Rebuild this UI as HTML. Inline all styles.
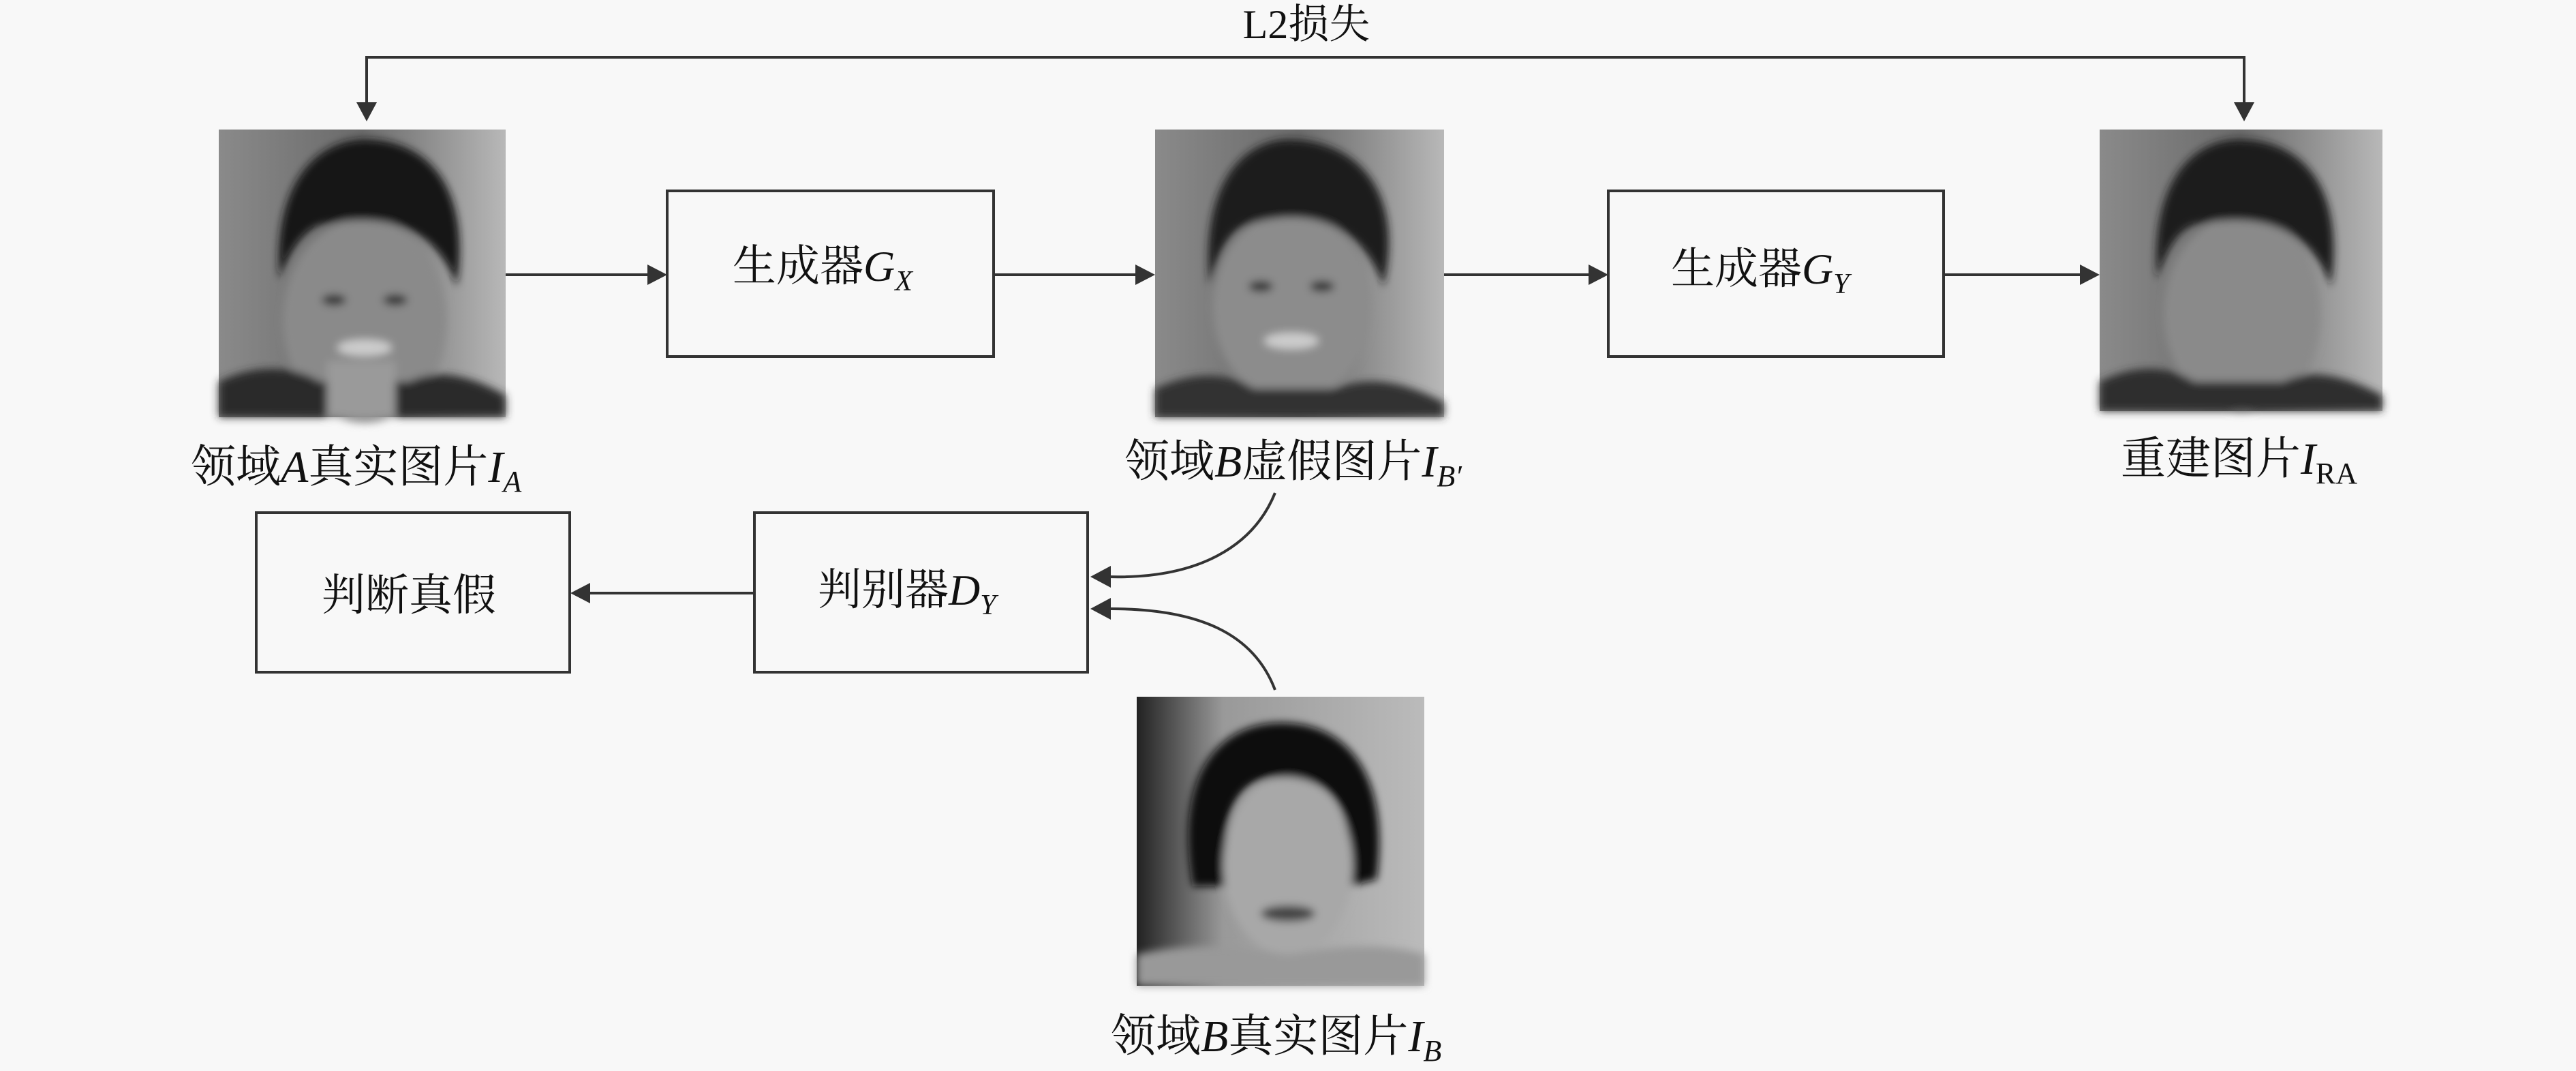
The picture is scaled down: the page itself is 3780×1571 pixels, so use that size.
<!DOCTYPE html>
<html><head><meta charset="utf-8"><style>
html,body{margin:0;padding:0;background:#f8f8f8;}
svg{display:block}
text{font-family:"Liberation Serif","Noto Serif CJK SC",serif;fill:#111;}
.m{font-style:italic}
</style></head><body>
<svg width="3780" height="1571" viewBox="0 0 3780 1571" xmlns="http://www.w3.org/2000/svg">
<defs>
<linearGradient id="bg1" x1="0" y1="0" x2="1" y2="0"><stop offset="0" stop-color="#8a8a8a"/><stop offset="0.5" stop-color="#6a6a6a"/><stop offset="1" stop-color="#b8b8b8"/></linearGradient>
<linearGradient id="bg2" x1="0" y1="0" x2="1" y2="0"><stop offset="0" stop-color="#222"/><stop offset="0.3" stop-color="#999"/><stop offset="1" stop-color="#bbb"/></linearGradient>
<filter id="bl"><feGaussianBlur stdDeviation="6"/></filter>
</defs>
<g stroke="#333" stroke-width="4" fill="none">
<polyline points="538,174 538,84 3293,84 3293,174"/>
<line x1="742" y1="403" x2="955" y2="403"/>
<line x1="1458" y1="403" x2="1672" y2="403"/>
<line x1="2119" y1="403" x2="2336" y2="403"/>
<line x1="2852" y1="403" x2="3058" y2="403"/>
<line x1="1107" y1="870" x2="860" y2="870"/>
<path d="M1871,723 C1840,800 1760,850 1625,846"/>
<path d="M1871,1012 C1840,930 1760,892 1625,893"/>
<rect x="979" y="280" width="479" height="243"/>
<rect x="2360" y="280" width="492" height="243"/>
<rect x="376" y="752" width="460" height="234"/>
<rect x="1107" y="752" width="489" height="234"/>
</g>
<g fill="#333">
<polygon points="523,150 553,150 538,178"/>
<polygon points="3278,150 3308,150 3293,178"/>
<polygon points="950,388 979,403 950,418"/>
<polygon points="1666,388 1695,403 1666,418"/>
<polygon points="2331,388 2360,403 2331,418"/>
<polygon points="3052,388 3081,403 3052,418"/>
<polygon points="866,855 837,870 866,885"/>
<polygon points="1630,830 1600,846 1630,862"/>
<polygon points="1630,877 1600,893 1630,909"/>
</g>
<g>
<rect x="321" y="190" width="421" height="422" fill="url(#bg1)"/>
<g filter="url(#bl)">
<ellipse cx="535" cy="470" rx="120" ry="150" fill="#8a8a8a"/>
<path d="M410,410 C400,250 480,200 545,205 C640,210 690,290 670,420 C640,330 560,310 470,330 C440,340 420,380 410,410Z" fill="#151515"/>
<path d="M321,612 L321,560 C380,530 440,540 470,560 L600,560 C640,540 690,550 742,580 L742,612Z" fill="#2a2a2a"/>
<rect x="480" y="530" width="100" height="82" fill="#9a9a9a"/>
<ellipse cx="490" cy="440" rx="18" ry="8" fill="#333"/><ellipse cx="580" cy="440" rx="18" ry="8" fill="#333"/>
<ellipse cx="535" cy="510" rx="40" ry="12" fill="#ccc"/>
</g>
</g>
<g>
<rect x="1695" y="190" width="424" height="422" fill="url(#bg1)"/>
<g filter="url(#bl)">
<ellipse cx="1895" cy="450" rx="115" ry="140" fill="#8c8c8c"/>
<path d="M1775,420 C1760,250 1840,200 1900,205 C2000,210 2060,290 2030,420 C2000,330 1920,300 1830,330 C1800,340 1785,380 1775,420Z" fill="#1a1a1a"/>
<path d="M1695,612 L1695,570 C1760,540 1810,550 1840,570 L1960,570 C2010,550 2060,560 2119,590 L2119,612Z" fill="#333"/>
<ellipse cx="1850" cy="420" rx="18" ry="8" fill="#333"/><ellipse cx="1940" cy="420" rx="18" ry="8" fill="#333"/>
<ellipse cx="1895" cy="500" rx="40" ry="12" fill="#ccc"/>
</g>
</g>
<g>
<rect x="3081" y="190" width="415" height="413" fill="url(#bg1)"/>
<g filter="url(#bl)">
<ellipse cx="3290" cy="460" rx="115" ry="145" fill="#8a8a8a"/>
<path d="M3165,410 C3155,250 3230,200 3295,205 C3390,210 3440,290 3420,420 C3390,330 3310,310 3220,330 C3190,340 3175,380 3165,410Z" fill="#1a1a1a"/>
<path d="M3081,603 L3081,560 C3140,530 3190,540 3220,560 L3350,560 C3390,540 3440,550 3496,580 L3496,603Z" fill="#2e2e2e"/>
</g>
</g>
<g>
<rect x="1668" y="1022" width="422" height="424" fill="url(#bg2)"/>
<g filter="url(#bl)">
<path d="M1750,1300 C1720,1120 1800,1060 1880,1060 C1980,1060 2040,1140 2020,1290 L1980,1300 C1990,1180 1950,1140 1880,1140 C1810,1140 1790,1200 1800,1300Z" fill="#111"/>
<ellipse cx="1890" cy="1270" rx="95" ry="130" fill="#a8a8a8"/>
<ellipse cx="1890" cy="1340" rx="40" ry="12" fill="#444"/>
<path d="M1668,1446 L1668,1400 C1760,1380 1820,1390 1890,1400 C1960,1390 2020,1380 2090,1400 L2090,1446Z" fill="#999"/>
</g>
</g>
<text x="1917" y="56" font-size="60" text-anchor="middle">L2损失</text>
<text x="1075" y="412" font-size="64">生成器<tspan class="m">G</tspan><tspan class="m" font-size="42" dy="14">X</tspan></text>
<text x="2452" y="416" font-size="64">生成器<tspan class="m">G</tspan><tspan class="m" font-size="42" dy="14">Y</tspan></text>
<text x="472" y="895" font-size="64">判断真假</text>
<text x="1200" y="887" font-size="64">判别器<tspan class="m">D</tspan><tspan class="m" font-size="42" dy="14">Y</tspan></text>
<text x="280" y="707" font-size="66">领域<tspan class="m">A</tspan>真实图片<tspan class="m">I</tspan><tspan class="m" font-size="44" dy="14">A</tspan></text>
<text x="1650" y="699" font-size="66">领域<tspan class="m">B</tspan>虚假图片<tspan class="m">I</tspan><tspan class="m" font-size="44" dy="14">B′</tspan></text>
<text x="3112" y="695" font-size="66">重建图片<tspan class="m">I</tspan><tspan font-size="44" dy="14">RA</tspan></text>
<text x="1630" y="1542" font-size="66">领域<tspan class="m">B</tspan>真实图片<tspan class="m">I</tspan><tspan class="m" font-size="44" dy="14">B</tspan></text>
</svg>
</body></html>
